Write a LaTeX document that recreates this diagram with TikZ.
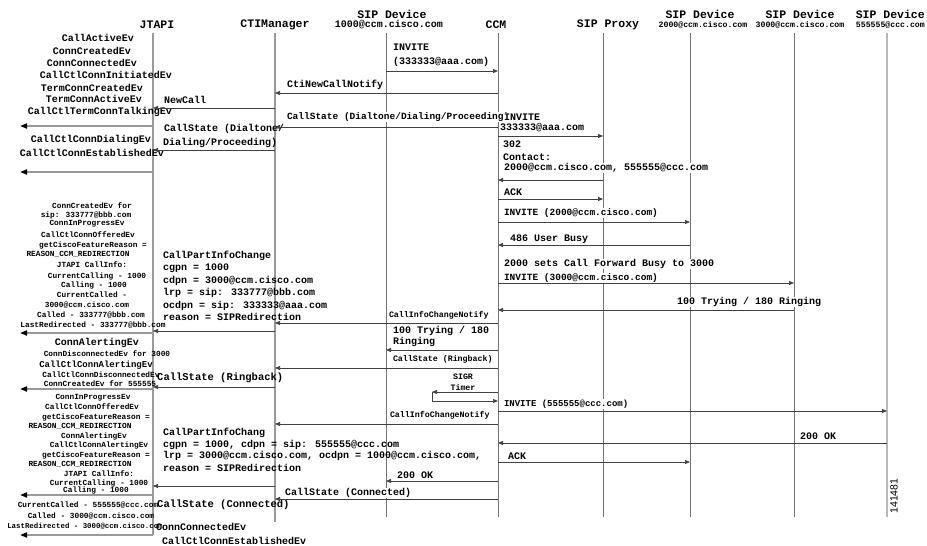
\documentclass[tikz,border=0pt]{standalone}
\usepackage{fontspec}
\setmainfont{Liberation Mono}
\newfontfamily\idfont{Liberation Sans}
\usetikzlibrary{arrows.meta}
\newcommand\fTen{\bfseries\fontsize{10}{10}\selectfont}
\newcommand\fNine{\bfseries\fontsize{9.5}{10}\selectfont}
\newcommand\fSm{\bfseries\fontsize{8.3}{9}\selectfont}
\newcommand\fHdr{\bfseries\fontsize{11.5}{12}\selectfont}
\begin{document}
\begin{tikzpicture}[x=1pt,y=-1pt,
  life/.style={draw=black!55, line width=0.9pt},
  lifeL/.style={draw=black!40, line width=1.5pt},
  lifeR/.style={draw=black!28, line width=2pt},
  msg/.style={draw=black!75, line width=0.7pt, -{Triangle[length=5pt,width=4pt]}},
  evar/.style={draw=black!40, line width=1.6pt, -{Triangle[length=7pt,width=5pt,color=black,fill=black]}},
  lb/.style={font=\fTen, anchor=west, inner sep=0.8pt, fill=white},
  lbn/.style={font=\fTen, anchor=west, inner sep=0pt},
  hdr/.style={font=\fHdr, inner sep=0pt},
  adr/.style={font=\bfseries\fontsize{8.2}{9}\selectfont, inner sep=0pt}
]
\useasboundingbox (0,0) rectangle (927,546);
\clip (0,0) rectangle (927,546);
\fill[white] (0,0) rectangle (927,546);

% lifelines
\coordinate (jt) at (153,33);  \coordinate (jtE) at (153,535);
\coordinate (cti) at (275,33); \coordinate (ctiE) at (275,522);
\coordinate (sa) at (386,33);  \coordinate (saE) at (386,517);
\coordinate (ccm) at (498,33); \coordinate (ccmE) at (498,517);
\coordinate (px) at (603,33);  \coordinate (pxE) at (603,517);
\coordinate (sb) at (690,33);  \coordinate (sbE) at (690,517);
\coordinate (sc) at (794,33);  \coordinate (scE) at (794,517);
\coordinate (sd) at (887,33);  \coordinate (sdE) at (887,517);
\draw[lifeL] (jt) -- (jtE);
\draw[lifeL] (cti) -- (ctiE);
\draw[life] (sa) -- (saE);
\draw[life] (ccm) -- (ccmE);
\draw[life] (px) -- (pxE);
\draw[life] (sb) -- (sbE);
\draw[life] (sc) -- (scE);
\draw[lifeR] (sd) -- (sdE);

% headers
\node[hdr] (hJ) at (157,25) {JTAPI};
\node[hdr] (hC) at (275,25) {CTIManager};
\node[hdr] (hSa1) at (392,14) {SIP Device};
\node[hdr, font=\bfseries\fontsize{10}{10}\selectfont] (hSa2) at (389,25) {1000@ccm.cisco.com};
\node[hdr] (hCCM) at (496,25) {CCM};
\node[hdr] (hP) at (608,25) {SIP Proxy};
\node[hdr] (hSb1) at (700,14) {SIP Device};
\node[hdr] (hSc1) at (800,14) {SIP Device};
\node[hdr, anchor=east] (hSd1) at (925,14) {SIP Device};
\node[adr] (hSb2) at (703,25) {2000@ccm.cisco.com};
\node[adr] (hSc2) at (800,25) {3000@ccm.cisco.com};
\node[adr, anchor=east] (hSd2) at (925,25) {555555@ccc.com};
\node[rotate=90, font=\idfont\fontsize{10.5}{11}\selectfont, inner sep=0pt] (fig) at (894,496) {141481};

% message labels (right of CTIManager)
\node[lb] (m1a) at (392,47) {INVITE};
\node[lb] (m1b) at (392,62) {(333333@aaa.com)};
\node[lb] (m2) at (286,85) {CtiNewCallNotify};
\node[lb,font=\fNine] (m4) at (286,117) {CallState (Dialtone/Dialing/Proceeding)};
\node[lb] (m5a) at (503,117) {INVITE};
\node[lb] (m5b) at (499,128) {333333@aaa.com};
\node[lb] (m7a) at (502,144) {302};
\node[lb] (m7b) at (502,157) {Contact:};
\node[lb] (m7c) at (503,168) {2000@ccm.cisco.com, 555555@ccc.com};
\node[lb] (m8) at (503,192) {ACK};
\node[lb,font=\fNine] (m9) at (503,213) {INVITE (2000@ccm.cisco.com)};
\node[lb] (m10) at (509,239) {486 User Busy};
\node[lb] (m11a) at (503,264) {2000 sets Call Forward Busy to 3000};
\node[lb,font=\fNine] (m11b) at (503,278) {INVITE (3000@ccm.cisco.com)};
\node[lb] (m12) at (676,302) {100 Trying / 180 Ringing};
\node[lb,font=\fSm] (m13) at (388,315) {CallInfoChangeNotify};
\node[lb] (m15a) at (392,331) {100 Trying / 180};
\node[lb] (m15b) at (392,342) {Ringing};
\node[lb,font=\fSm] (m16) at (392,359) {CallState (Ringback)};
\node[lb,font=\fSm, anchor=center] (tm1) at (463,377) {SIGR};
\node[lb,font=\fSm, anchor=center] (tm2) at (463,388) {Timer};
\node[lb,font=\bfseries\fontsize{9}{10}\selectfont] (m19) at (503,404) {INVITE (555555@ccc.com)};
\node[lb,font=\fSm] (m20) at (389,415) {CallInfoChangeNotify};
\node[lb] (m21) at (799,436) {200 OK};
\node[lb] (m22) at (507,456) {ACK};
\node[lb] (m23) at (396,475) {200 OK};
\node[lb] (m25) at (284,493) {CallState (Connected)};

% labels between JTAPI and CTIManager
\node[lbn] (j3) at (164,100) {NewCall};
\node[lbn] (j6a) at (164,129) {CallState (Dialtone/};
\node[lbn] (j6b) at (163,143) {Dialing/Proceeding)};
\node[lbn] (pa1) at (163,256) {CallPartInfoChange};
\node[lbn] (pa2) at (163,268) {cgpn = 1000};
\node[lbn] (pa3) at (163,281) {cdpn = 3000@ccm.cisco.com};
\node[lbn] (pa4) at (163,293) {lrp = sip: 333777@bbb.com};
\node[lbn] (pa5) at (163,306) {ocdpn = sip: 333333@aaa.com};
\node[lbn] (pa6) at (163,317) {reason = SIPRedirection};
\node[lbn,font=\bfseries\fontsize{10.5}{11}\selectfont] (j17) at (157,378) {CallState (Ringback)};
\node[lbn] (pb1) at (163,433) {CallPartInfoChang};
\node[lbn] (pb2) at (163,445) {cgpn = 1000, cdpn = sip: 555555@ccc.com};
\node[lbn] (pb3) at (163,456) {lrp = 3000@ccm.cisco.com, ocdpn = 1000@ccm.cisco.com,};
\node[lbn] (pb4) at (163,468) {reason = SIPRedirection};
\node[lbn,font=\bfseries\fontsize{10.5}{11}\selectfont] (j26) at (157,505) {CallState (Connected)};
\node[lbn] (j27) at (156,527) {ConnConnectedEv};
\node[lbn] (j28) at (162,541) {CallCtlConnEstablishedEv};

% JTAPI events (left column)
\foreach \x/\y/\t [count=\i] in {98/38/CallActiveEv, 92/51/ConnCreatedEv, 92/63/ConnConnectedEv,
  106/75/CallCtlConnInitiatedEv, 92/88/TermConnCreatedEv, 94/99/TermConnActiveEv,
  100/112/CallCtlTermConnTalkingEv, 91/140/CallCtlConnDialingEv, 92/153/CallCtlConnEstablishedEv}
  \node[font=\fTen, inner sep=0pt] (ea\i) at (\x,\y) {\t};

\foreach \x/\y/\t [count=\i] in {92/206/ConnCreatedEv for, 86/215/sip: 333777@bbb.com,
  87/224/ConnInProgressEv, 88/235/CallCtlConnOfferedEv, 93/245/getCiscoFeatureReason =,
  78/254/REASON\_CCM\_REDIRECTION, 92/265/JTAPI CallInfo:, 97/276/CurrentCalling - 1000,
  94/285/Calling - 1000, 92/295/CurrentCalled -, 87/305/3000@ccm.cisco.com,
  91/315/Called - 333777@bbb.com, 93/325/LastRedirected - 333777@bbb.com}
  \node[font=\bfseries\fontsize{7.8}{8}\selectfont, inner sep=0pt] (eb\i) at (\x,\y) {\t};

\foreach \x/\y/\fs/\t [count=\i] in {97/343/10/ConnAlertingEv, 107/354/7.8/ConnDisconnectedEv for 3000,
  96/365/9/CallCtlConnAlertingEv, 101/375/7.8/CallCtlConnDisconnectedEv,
  100/384/7.8/ConnCreatedEv for 555555, 93/398/7.8/ConnInProgressEv,
  92/407/7.8/CallCtlConnOfferedEv, 96/417/7.8/getCiscoFeatureReason =,
  80/426/7.8/REASON\_CCM\_REDIRECTION, 94/436/7.8/ConnAlertingEv,
  99/445/7.8/CallCtlConnAlertingEv, 96/455/7.8/getCiscoFeatureReason =,
  80/464/7.8/REASON\_CCM\_REDIRECTION, 99/474/7.8/JTAPI CallInfo:,
  99/483/7.8/CurrentCalling - 1000, 96/490/7.8/Calling - 1000,
  88/505/7.8/CurrentCalled - 555555@ccc.com, 91/516/7.8/Called - 3000@ccm.cisco.com,
  85/526/7.4/LastRedirected - 3000@ccm.cisco.com}
  \node[font=\bfseries\fontsize{\fs}{\fs}\selectfont, inner sep=0pt] (ec\i) at (\x,\y) {\t};

% left event arrows
\foreach \y [count=\i] in {126,172,333,389,495,535} {
  \coordinate (ex\i) at (20,\y);
  \draw[evar] (jt |- ex\i) -- (ex\i);
}

% messages
\foreach \a/\b/\y in {sa/ccm/71, ccm/cti/93, cti/jt/108, ccm/cti/127, ccm/px/136, cti/jt/150,
  px/ccm/180, ccm/px/199, ccm/sb/222, sb/ccm/245, ccm/sc/283, sc/ccm/310, ccm/cti/323,
  cti/jt/331, ccm/sa/350, ccm/cti/368, cti/jt/387, ccm/sd/411, ccm/cti/424, sd/ccm/443,
  ccm/sb/462, ccm/sa/481, cti/jt/486, ccm/cti/499}
  \draw[msg] (\a |- 0,\y) -- (\b |- 0,\y);

% timer
\coordinate (tA) at (432,392);
\coordinate (tB) at (432,401);
\draw[msg] (ccm |- tA) -- (tA);
\draw[msg] (tA) -- (tB) -- (ccm |- tB);
\end{tikzpicture}
\end{document}
